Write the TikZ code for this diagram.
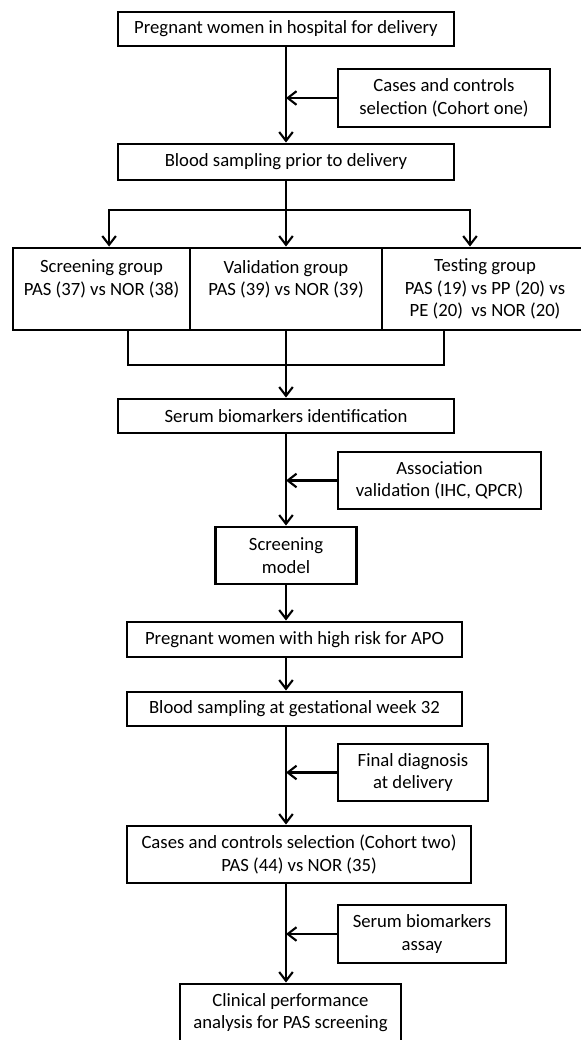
\documentclass[tikz,border=0pt]{standalone}
\usepackage{fontspec}
\setmainfont{Carlito}
\usetikzlibrary{arrows.meta}
\begin{document}
\begin{tikzpicture}[
	box/.style={draw, line width=2.1pt, align=center, inner sep=2pt, font=\fontsize{13.3}{16}\selectfont},
	arr/.style={->, line width=1.5pt},
	>={Straight Barb[length=2.2mm, width=3.4mm, line width=1.5pt]}]
	\useasboundingbox (0,0) rectangle (14.525,-26);
	\coordinate (axis) at (7.15,0);
	\node[box, minimum width=8.4cm, minimum height=0.85cm] (hosp) at (7.15,-0.725) {Pregnant women in hospital for delivery};
	\node[box, minimum width=5.3cm, minimum height=1.45cm] (sel1) at (11.1,-2.45) {Cases and controls\\selection (Cohort one)};
	\node[box, minimum width=8.4cm, minimum height=0.9cm] (prior) at (7.15,-4.05) {Blood sampling prior to delivery};
	\coordinate (split) at (7.15,-5.25);
	\node[box, minimum width=4.425cm, minimum height=2.05cm] (scr) at (2.5375,-7.225) {Screening group\\PAS (37) vs NOR (38)\\~};
	\node[box, minimum width=4.8cm, minimum height=2.05cm] (val) at (7.15,-7.225) {Validation group\\PAS (39) vs NOR (39)\\~};
	\node[box, minimum width=5.15cm, minimum height=2.05cm] (tst) at (12.125,-7.225) {Testing group\\PAS (19) vs PP (20) vs\\PE (20)~ vs NOR (20)};
	\coordinate (merge) at (7.15,-9.125);
	\node[box, minimum width=8.4cm, minimum height=0.85cm] (ident) at (7.15,-10.4) {Serum biomarkers identification};
	\node[box, minimum width=5.075cm, minimum height=1.425cm] (assoc) at (10.9875,-12.0125) {Association\\validation (IHC, QPCR)};
	\node[box, minimum width=3.525cm, minimum height=1.425cm] (model) at (7.15,-13.8875) {Screening\\model};
	\node[box, minimum width=8.375cm, minimum height=0.875cm] (risk) at (7.3625,-15.9875) {Pregnant women with high risk for APO};
	\node[box, minimum width=8.375cm, minimum height=0.85cm] (week) at (7.3625,-17.725) {Blood sampling at gestational week 32};
	\node[box, minimum width=3.75cm, minimum height=1.425cm] (diag) at (10.325,-19.3125) {Final diagnosis\\at delivery};
	\node[box, minimum width=8.6cm, minimum height=1.425cm] (sel2) at (7.475,-21.3625) {Cases and controls selection (Cohort two)\\PAS (44) vs NOR (35)};
	\node[box, minimum width=4.2cm, minimum height=1.45cm] (assay) at (10.55,-23.35) {Serum biomarkers\\assay};
	\node[box, minimum width=5.525cm, minimum height=1.425cm] (clin) at (7.2625,-25.3125) {Clinical performance\\analysis for PAS screening};
	% main line
	\draw[arr] (hosp) -- (prior);
	\draw[arr] (sel1.west) -- (sel1.west -| axis);
	\draw[arr] (prior) -- (val);
	\draw[arr] (split) -| ([xshift=0.19cm]scr.north);
	\draw[arr] (split) -| ([xshift=-0.375cm]tst.north);
	\draw[line width=1.5pt] ([xshift=0.6625cm]scr.south) |- (merge) -| ([xshift=-1.025cm]tst.south);
	\draw[arr] (val) -- (ident);
	\draw[arr] (ident) -- (model);
	\draw[arr] (assoc.west) -- (assoc.west -| axis);
	\draw[arr] (model) -- (model.south |- risk.north);
	\draw[arr] (risk.south -| axis) -- (week.north -| axis);
	\draw[arr] (week.south -| axis) -- (sel2.north -| axis);
	\draw[arr] (diag.west) -- (diag.west -| axis);
	\draw[arr] (sel2.south -| axis) -- (clin.north -| axis);
	\draw[arr] (assay.west) -- (assay.west -| axis);
\end{tikzpicture}
\end{document}
